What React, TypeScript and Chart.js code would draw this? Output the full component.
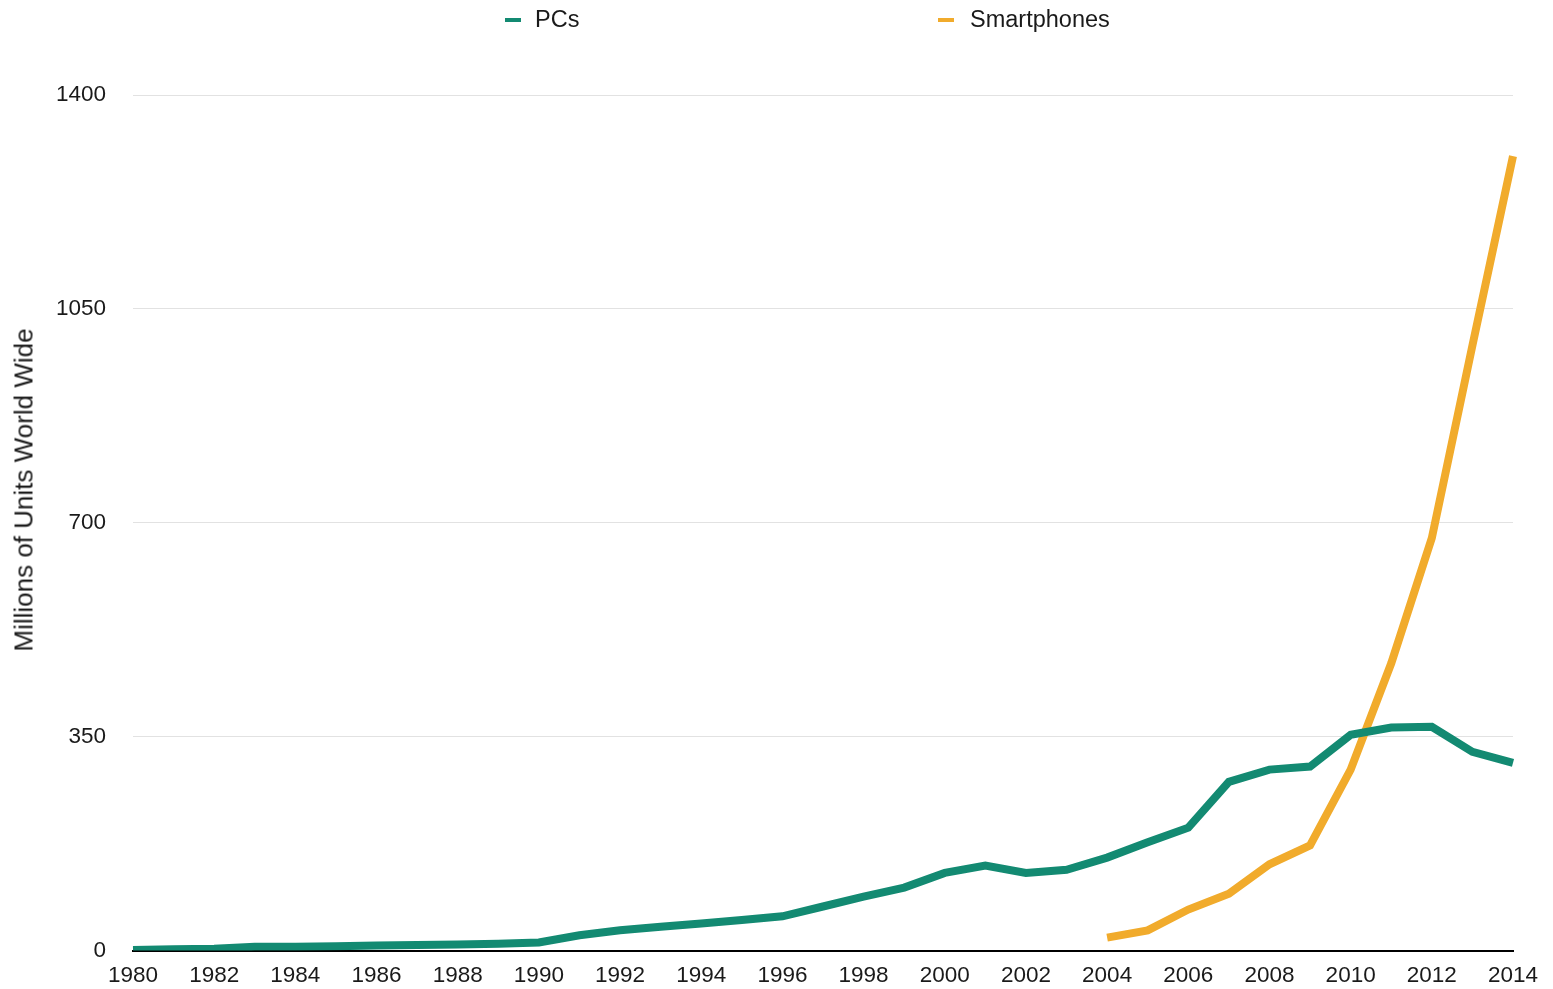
import React, { useEffect, useRef } from "react";
import { Chart, registerables } from "chart.js";

Chart.register(...registerables);

const years = [
  "1980", "1981", "1982", "1983", "1984", "1985", "1986", "1987", "1988", "1989",
  "1990", "1991", "1992", "1993", "1994", "1995", "1996", "1997", "1998", "1999",
  "2000", "2001", "2002", "2003", "2004", "2005", "2006", "2007", "2008", "2009",
  "2010", "2011", "2012", "2013", "2014",
];

const pcs = [
  1, 2, 3, 6, 6, 7, 8, 9, 10, 11,
  13, 25, 33, 39, 44, 50, 56, 72, 88, 103,
  127, 139, 127, 132, 152, 177, 201, 276, 296, 301,
  353, 365, 366, 325, 307,
];

const smartphones = [
  null, null, null, null, null, null, null, null, null, null,
  null, null, null, null, null, null, null, null, null, null,
  null, null, null, null, 21, 33, 67, 93, 141, 172,
  296, 470, 675, 990, 1300,
];

const yTicks = [0, 350, 700, 1050, 1400];

const PC_COLOR = "#138a72";
const SP_COLOR = "#f1ab2c";
const TEXT = "#1a1a1a";
const FONT = "'Liberation Sans', Arial, Helvetica, sans-serif";

export default function App() {
  const ref = useRef<HTMLCanvasElement | null>(null);

  useEffect(() => {
    if (!ref.current) return;
    const chart = new Chart(ref.current, {
      type: "line",
      data: {
        labels: years,
        datasets: [
          {
            label: "PCs",
            data: pcs,
            borderColor: PC_COLOR,
            backgroundColor: PC_COLOR,
            borderWidth: 8,
            pointRadius: 0,
            tension: 0,
          },
          {
            label: "Smartphones",
            data: smartphones,
            borderColor: SP_COLOR,
            backgroundColor: SP_COLOR,
            borderWidth: 8,
            pointRadius: 0,
            tension: 0,
            spanGaps: false,
          },
        ],
      },
      options: {
        animation: false,
        responsive: true,
        maintainAspectRatio: false,
        layout: { padding: { top: 93, right: 40, left: 0, bottom: 0 } },
        plugins: {
          legend: { display: false },
          tooltip: { enabled: false },
        },
        scales: {
          x: {
            type: "category",
            offset: false,
            grid: { display: false, drawTicks: false },
            border: { display: true, color: "#000", width: 2 },
            ticks: {
              autoSkip: false,
              maxRotation: 0,
              padding: 12,
              color: TEXT,
              font: { family: FONT, size: 22.5 },
              callback: (_v: any, i: number) => (i % 2 === 0 ? years[i] : ""),
            },
            afterFit: (s: any) => {
              s.height = 36;
            },
          },
          y: {
            min: 0,
            max: 1400,
            afterBuildTicks: (s: any) => {
              s.ticks = yTicks.map((v) => ({ value: v }));
            },
            grid: { color: "#e2e2e2", lineWidth: 1, drawTicks: false },
            border: { display: false },
            ticks: {
              padding: 27,
              color: TEXT,
              font: { family: FONT, size: 22.5 },
              callback: (v: any) => String(v),
            },
            afterFit: (s: any) => {
              s.width = 133;
            },
          },
        },
      },
    });
    return () => chart.destroy();
  }, []);

  return (
    <div style={{ position: "fixed", left: 0, top: 0, width: 1553, height: 989, background: "#fff", fontFamily: FONT, overflow: "hidden" }}>
      <div style={{ position: "absolute", left: 0, top: 2, width: 1553, height: 989 }}>
        <canvas ref={ref} />
      </div>
      <div style={{ position: "absolute", left: 505, top: 18, width: 16, height: 4, background: PC_COLOR }} />
      <div style={{ position: "absolute", left: 535, top: 5, fontSize: 23.5, color: TEXT, lineHeight: "28px" }}>PCs</div>
      <div style={{ position: "absolute", left: 938, top: 18, width: 16, height: 4, background: SP_COLOR }} />
      <div style={{ position: "absolute", left: 970, top: 5, fontSize: 23.5, color: TEXT, lineHeight: "28px" }}>Smartphones</div>
      <div
        style={{
          position: "absolute",
          left: 24,
          top: 490,
          transform: "translate(-50%, -50%) rotate(-90deg)",
          whiteSpace: "nowrap",
          fontSize: 26,
          color: TEXT,
        }}
      >
        Millions of Units World Wide
      </div>
    </div>
  );
}
